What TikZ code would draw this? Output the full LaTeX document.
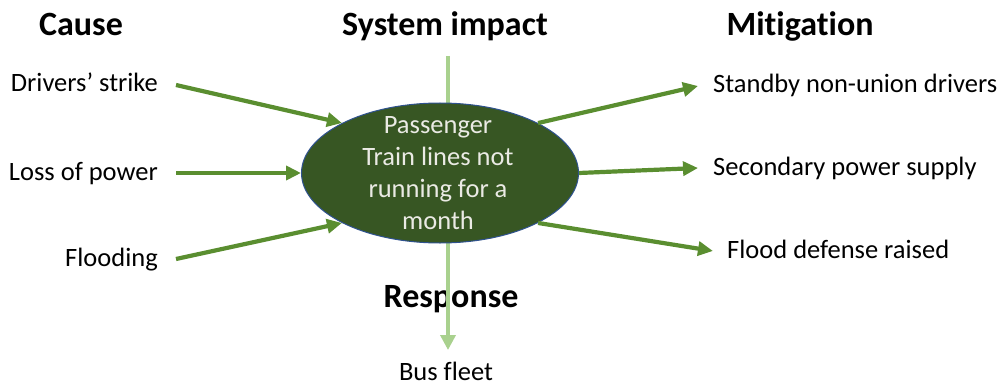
\documentclass[tikz,border=0pt]{standalone}
\usepackage{fontspec}
\setmainfont{Carlito}[Ligatures=NoCommon]
\usetikzlibrary{shapes.geometric,arrows.meta}

\definecolor{arrowgreen}{HTML}{5A8E30}
\definecolor{hubfill}{HTML}{375623}
\definecolor{hubedge}{HTML}{2F528F}
\definecolor{respgreen}{HTML}{A9D18E}
\definecolor{hubtextcol}{HTML}{EAEAE4}

\tikzset{
  heading/.style={font=\bfseries\fontsize{34}{40}\selectfont, inner sep=0pt, anchor=base},
  lbl/.style={font=\fontsize{26.5}{30}\selectfont, inner sep=0pt, text height=19pt, text depth=5pt},
  hub/.style={ellipse, draw=hubedge, line width=1pt, fill=hubfill,
              minimum width=277pt, minimum height=140pt, inner sep=0pt},
  hubtext/.style={font=\fontsize{26.5}{32}\selectfont, text=hubtextcol, align=center, inner sep=0pt},
  flow/.style={draw=arrowgreen, line width=4.2pt,
               -{Triangle[length=15pt,width=14pt]}},
  resp/.style={draw=respgreen, line width=3.5pt,
               -{Triangle[length=15pt,width=15pt]}}
}

\begin{document}
\begin{tikzpicture}[x=1pt,y=-1pt]
\useasboundingbox (0,0) rectangle (1003,385);

% column headings
\node[heading] (hcause) at (81,36) {Cause};
\node[heading] (himpact) at (445,36) {System impact};
\node[heading] (hmitig) at (800,36) {Mitigation};
\node[heading] (hresp) at (451,307) {Response};

% causes
\node[lbl, anchor=east] (ds) at (158,85) {Drivers’ strike};
\node[lbl, anchor=east] (lp) at (158,173) {Loss of power};
\node[lbl, anchor=east] (fl) at (158,259) {Flooding};

% mitigations
\node[lbl, anchor=west] (sb) at (713,86) {Standby non-union drivers};
\node[lbl, anchor=west] (sp) at (713,168) {Secondary power supply};
\node[lbl, anchor=west] (fd) at (727,251) {Flood defense raised};

% response
\node[lbl, anchor=base, text depth=1pt] (bf) at (446,380) {Bus fleet};

% system impact axis, behind the central event
\coordinate (axtop) at (448,56);
\coordinate (axtip) at (448,350);
\draw[resp] (axtop) -- (axtip);

% central event
\node[hub] (hub) at (440,173) {};
\node[hubtext] (hubtxt) at (438,173) {Passenger\\Train lines not\\running for a\\month};

% cause arrows
\draw[flow] ([xshift=18pt]ds.east) -- (hub.153);
\draw[flow] ([xshift=18pt]lp.east) -- (hub.180);
\draw[flow] ([xshift=18pt]fl.east) -- (hub.207);

% mitigation arrows
\draw[flow] (hub.27) -- ([xshift=-15pt]sb.west);
\draw[flow] (hub.0) -- ([xshift=-15pt]sp.west);
\draw[flow] (hub.-27) -- ([xshift=-14pt]fd.west);
\end{tikzpicture}
\end{document}
